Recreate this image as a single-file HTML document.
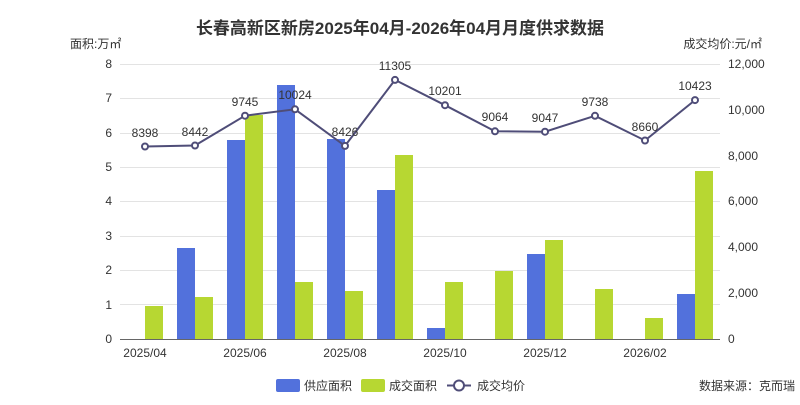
<!DOCTYPE html>
<html><head><meta charset="utf-8"><style>
body{margin:0;background:#fff;}
svg text{font-family:"Liberation Sans","Noto Sans CJK SC",sans-serif;}
</style></head><body>
<svg width="800" height="400" xmlns="http://www.w3.org/2000/svg">
<text x="400" y="34" text-anchor="middle" font-size="17" font-weight="bold" fill="#333">长春高新区新房2025年04月-2026年04月月度供求数据</text>
<text x="70" y="48" font-size="12" fill="#333">面积:万㎡</text>
<text x="762" y="48" font-size="12" fill="#333" text-anchor="end">成交均价:元/㎡</text>
<g stroke="#e3e3e3" stroke-width="1">
<line x1="120" x2="720" y1="64.5" y2="64.5"/><line x1="120" x2="720" y1="98.5" y2="98.5"/>
<line x1="120" x2="720" y1="133.5" y2="133.5"/><line x1="120" x2="720" y1="167.5" y2="167.5"/>
<line x1="120" x2="720" y1="201.5" y2="201.5"/><line x1="120" x2="720" y1="236.5" y2="236.5"/>
<line x1="120" x2="720" y1="270.5" y2="270.5"/><line x1="120" x2="720" y1="304.5" y2="304.5"/>
</g>
<line x1="120" x2="720" y1="339.5" y2="339.5" stroke="#666"/>
<g font-size="12" fill="#333" text-anchor="end">
<text x="112" y="343">0</text><text x="112" y="309">1</text><text x="112" y="274">2</text>
<text x="112" y="240">3</text><text x="112" y="205">4</text><text x="112" y="171">5</text>
<text x="112" y="137">6</text><text x="112" y="102">7</text><text x="112" y="68">8</text>
</g>
<g font-size="12" fill="#333">
<text x="728" y="343">0</text><text x="728" y="297">2,000</text><text x="728" y="251">4,000</text>
<text x="728" y="205">6,000</text><text x="728" y="160">8,000</text><text x="728" y="114">10,000</text>
<text x="728" y="68">12,000</text>
</g>
<g font-size="12" fill="#333" text-anchor="middle">
<text x="145" y="357">2025/04</text><text x="245" y="357">2025/06</text><text x="345" y="357">2025/08</text>
<text x="445" y="357">2025/10</text><text x="545" y="357">2025/12</text><text x="645" y="357">2026/02</text>
</g>
<g fill="#5271dc">
<rect x="177" y="248" width="18" height="91"/><rect x="227" y="140" width="18" height="199"/>
<rect x="277" y="85" width="18" height="254"/><rect x="327" y="139" width="18" height="200"/>
<rect x="377" y="190" width="18" height="149"/><rect x="427" y="328" width="18" height="11"/>
<rect x="527" y="254" width="18" height="85"/><rect x="677" y="294" width="18" height="45"/>
</g>
<g fill="#b7d732">
<rect x="145" y="306" width="18" height="33"/><rect x="195" y="297" width="18" height="42"/>
<rect x="245" y="115" width="18" height="224"/><rect x="295" y="282" width="18" height="57"/>
<rect x="345" y="291" width="18" height="48"/><rect x="395" y="155" width="18" height="184"/>
<rect x="445" y="282" width="18" height="57"/><rect x="495" y="271" width="18" height="68"/>
<rect x="545" y="240" width="18" height="99"/><rect x="595" y="289" width="18" height="50"/>
<rect x="645" y="318" width="18" height="21"/><rect x="695" y="171" width="18" height="168"/>
</g>
<polyline fill="none" stroke="#4f4d78" stroke-width="2" points="145,146.5 195,145.5 245,115.7 295,109.3 345,145.9 395,79.9 445,105.2 495,131.3 545,131.7 595,115.8 645,140.5 695,100.1"/>
<g fill="#fff" stroke="#4f4d78" stroke-width="2">
<circle cx="145" cy="146.5" r="3"/><circle cx="195" cy="145.5" r="3"/><circle cx="245" cy="115.7" r="3"/>
<circle cx="295" cy="109.3" r="3"/><circle cx="345" cy="145.9" r="3"/><circle cx="395" cy="79.9" r="3"/>
<circle cx="445" cy="105.2" r="3"/><circle cx="495" cy="131.3" r="3"/><circle cx="545" cy="131.7" r="3"/>
<circle cx="595" cy="115.8" r="3"/><circle cx="645" cy="140.5" r="3"/><circle cx="695" cy="100.1" r="3"/>
</g>
<g font-size="12" fill="#333" text-anchor="middle">
<text x="145" y="137">8398</text><text x="195" y="136">8442</text><text x="245" y="106">9745</text>
<text x="295" y="99">10024</text><text x="345" y="136">8426</text><text x="395" y="70">11305</text>
<text x="445" y="95">10201</text><text x="495" y="121">9064</text><text x="545" y="122">9047</text>
<text x="595" y="106">9738</text><text x="645" y="131">8660</text><text x="695" y="90">10423</text>
</g>
<rect x="276" y="379" width="24" height="13" rx="2" fill="#5271dc"/>
<text x="304" y="390" font-size="12" fill="#333">供应面积</text>
<rect x="361" y="379" width="24" height="13" rx="2" fill="#b7d732"/>
<text x="389" y="390" font-size="12" fill="#333">成交面积</text>
<line x1="447" x2="471" y1="385.5" y2="385.5" stroke="#4f4d78" stroke-width="2"/>
<circle cx="459" cy="385.5" r="5" fill="#fff" stroke="#4f4d78" stroke-width="2"/>
<text x="477" y="390" font-size="12" fill="#333">成交均价</text>
<text x="795" y="390" font-size="12" fill="#333" text-anchor="end">数据来源：克而瑞</text>
</svg>
</body></html>
